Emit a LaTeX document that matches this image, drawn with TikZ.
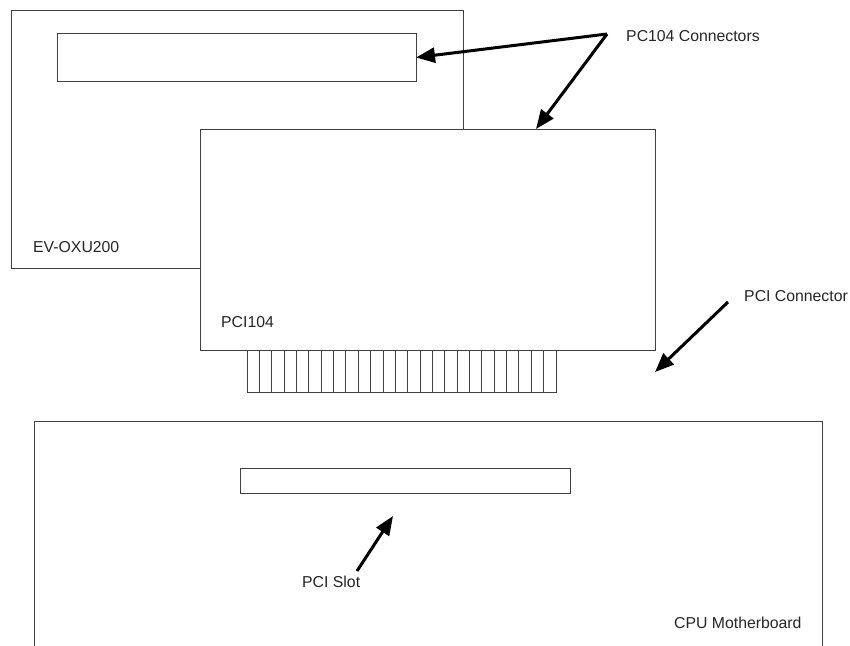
\documentclass[tikz,border=0pt]{standalone}
\usepackage{fontspec}
\setmainfont{Liberation Sans}
\usepackage{tikz}
\usetikzlibrary{arrows.meta,positioning,calc}

\begin{document}
\begin{tikzpicture}[
    x=1pt, y=-1pt,
    font=\fontsize{15.8}{18}\selectfont,
    board/.style={draw=black!75, line width=0.9pt, fill=white, inner sep=0pt, outer sep=0pt},
    finger/.style={draw=black!75, line width=0.9pt, fill=white, inner sep=0pt, outer sep=0pt, minimum width=12.36pt, minimum height=42pt},
    label/.style={anchor=west, inner sep=0pt, text=black!85},
    arrow/.style={-{Triangle[length=19pt, width=15pt]}, line width=3pt}
]
    \clip (0,0) rectangle (850,645);
    \fill[white] (0,0) rectangle (850,645);

    % EV-OXU200 board and its PC104 connector
    \node[board, minimum width=452pt, minimum height=258pt] (evboard) at (237,139) {};
    \node[board, minimum width=359pt, minimum height=48pt] (pctop) at (236.5,57.5) {};
    \node[label] (evlabel) at (33,247) {EV-OXU200};

    % PCI104 board with edge fingers
    \node[board, minimum width=455pt, minimum height=221pt] (pciboard) at (427.5,239.5) {};
    \node[label] (pcilabel) at (221,322) {PCI104};
    \foreach \i in {0,...,24}
        \node[finger] (f\i) at ({253.2+12.36*\i},371) {};

    % CPU motherboard
    \node[board, minimum width=788pt, minimum height=300pt] (mboard) at (428,571) {};
    \node[board, minimum width=330pt, minimum height=25pt] (pcislot) at (405,480.5) {};
    \node[label] (cpulabel) at (674,623) {CPU Motherboard};

    % labels with arrows
    \node[label] (pc104lbl) at (626,36) {PC104 Connectors};
    \node[label] (pcilbl) at (744,296) {PCI Connector};
    \node[label] (slotlbl) at (302,582) {PCI Slot};

    \coordinate (pcsrc) at (607,34);
    \coordinate (pcitip) at (536,129);
    \coordinate (consrc) at (728,302);
    \coordinate (contip) at (655,372);
    \coordinate (slotsrc) at (357,571);
    \coordinate (slottip) at (393,516);

    \draw[arrow] (pcsrc) -- (pctop.east);
    \draw[arrow] (pcsrc) -- (pcitip);
    \draw[arrow] (consrc) -- (contip);
    \draw[arrow] (slotsrc) -- (slottip);
\end{tikzpicture}
\end{document}
